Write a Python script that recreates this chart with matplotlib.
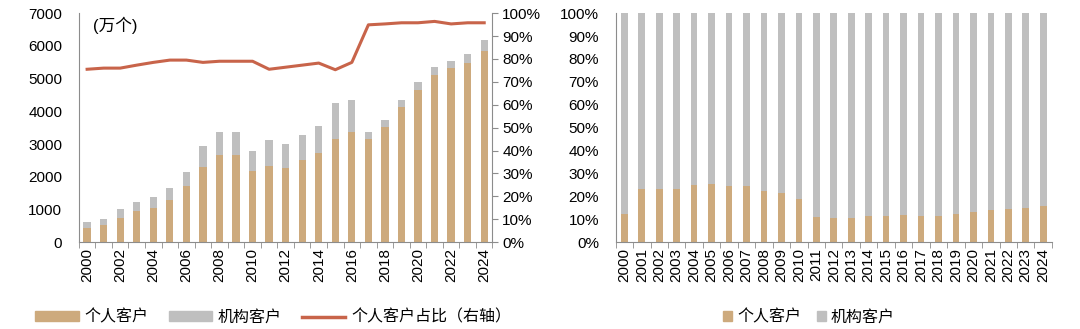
import matplotlib
matplotlib.use("Agg")
import matplotlib.pyplot as plt
from matplotlib.patches import Patch
from matplotlib.lines import Line2D
import numpy as np

plt.rcParams["font.family"] = ["Liberation Sans", "Noto Sans CJK SC", "DejaVu Sans"]
plt.rcParams["font.size"] = 11

years = list(range(2000, 2025))
# left panel: accounts (万个)
individual = [428, 530, 734, 958, 1040, 1295, 1702, 2304, 2650, 2650, 2181, 2334, 2253,
              2508, 2712, 3160, 3364, 3160, 3507, 4139, 4659, 5107, 5311, 5474, 5851]
total = [601, 703, 1009, 1233, 1366, 1641, 2151, 2926, 3364, 3364, 2783, 3130, 2987,
         3262, 3547, 4241, 4353, 3374, 3721, 4353, 4903, 5341, 5525, 5759, 6177]
institution = [t - i for t, i in zip(total, individual)]
ind_ratio = [75.5, 76.0, 76.0, 77.3, 78.5, 79.5, 79.5, 78.5, 79.0, 79.0, 79.0, 75.5, 76.4,
             77.3, 78.2, 75.3, 78.5, 94.9, 95.3, 95.8, 95.8, 96.4, 95.3, 95.8, 95.8]
# right panel: share (%)
ind_share = [12.2, 23.4, 23.0, 23.4, 25.0, 25.5, 24.5, 24.5, 22.4, 21.5, 18.9, 11.0, 10.4,
             10.4, 11.4, 11.4, 12.0, 11.4, 11.4, 12.4, 13.3, 14.1, 14.3, 15.1, 15.8]
inst_share = [100 - v for v in ind_share]

TAN = "#cdaa7d"
GRAY = "#bfbfbf"
RED = "#c8644a"
SPINE = "#8c8c8c"

fig = plt.figure(figsize=(10.8, 3.29), dpi=100)
x = np.arange(len(years))

# ---- left panel
ax = fig.add_axes([0.073, 0.264, 0.383, 0.696])
ax.bar(x, individual, width=0.44, color=TAN, zorder=2)
ax.bar(x, institution, width=0.44, bottom=individual, color=GRAY, zorder=2)
ax.set_xlim(-0.5, len(years) - 0.5)
ax.set_ylim(0, 7000)
ax.set_yticks(range(0, 7001, 1000))
ax.tick_params(axis="y", length=0, pad=12)
ax.set_xticks(x)
ax.set_xticklabels([str(y) if y % 2 == 0 else "" for y in years], rotation=90)
ax.set_xticks(np.arange(-0.5, len(years)), minor=True)
ax.tick_params(axis="x", which="major", length=0, pad=4)
ax.tick_params(axis="x", which="minor", length=4, color=SPINE)
for s in ("top", "right"):
    ax.spines[s].set_visible(False)
ax.spines["left"].set_color(SPINE)
ax.spines["bottom"].set_color(SPINE)
ax.text(0.035, 0.985, "(万个)", transform=ax.transAxes, ha="left", va="top", fontsize=12)

ax2 = ax.twinx()
ax2.plot(x, ind_ratio, color=RED, lw=2.2, zorder=3)
ax2.set_ylim(0, 100)
ax2.set_yticks(range(0, 101, 10))
ax2.set_yticklabels([f"{v}%" for v in range(0, 101, 10)])
ax2.tick_params(axis="y", length=4, color=SPINE, pad=3)
for s in ("top", "left", "bottom"):
    ax2.spines[s].set_visible(False)
ax2.spines["right"].set_color(SPINE)

handles = [Patch(color=TAN), Patch(color=GRAY), Line2D([], [], color=RED, lw=2.5)]
fig.legend(handles, ["个人客户", "机构客户", "个人客户占比（右轴）"], loc="center",
           bbox_to_anchor=(0.253, 0.036), ncol=3, frameon=False, handlelength=2.7,
           handleheight=0.55, columnspacing=1.3, handletextpad=0.35, fontsize=11.5)

# ---- right panel
bx = fig.add_axes([0.570, 0.264, 0.404, 0.696])
bx.bar(x, ind_share, width=0.38, color=TAN, zorder=2)
bx.bar(x, inst_share, width=0.38, bottom=ind_share, color=GRAY, zorder=2)
bx.set_xlim(-0.5, len(years) - 0.5)
bx.set_ylim(0, 100)
bx.set_yticks(range(0, 101, 10))
bx.set_yticklabels([f"{v}%" for v in range(0, 101, 10)])
bx.tick_params(axis="y", length=0, pad=12)
bx.set_xticks(x)
bx.set_xticklabels([str(y) for y in years], rotation=90)
bx.set_xticks(np.arange(-0.5, len(years)), minor=True)
bx.tick_params(axis="x", which="major", length=0, pad=4)
bx.tick_params(axis="x", which="minor", length=4, color=SPINE)
for s in ("top", "right"):
    bx.spines[s].set_visible(False)
bx.spines["left"].set_color(SPINE)
bx.spines["bottom"].set_color(SPINE)

fig.legend([Patch(color=TAN), Patch(color=GRAY)], ["个人客户", "机构客户"], loc="center",
           bbox_to_anchor=(0.749, 0.036), ncol=2, frameon=False, handlelength=0.55,
           handleheight=0.55, columnspacing=1.0, handletextpad=0.3, fontsize=11.5)

fig.savefig("out.png", dpi=100)
